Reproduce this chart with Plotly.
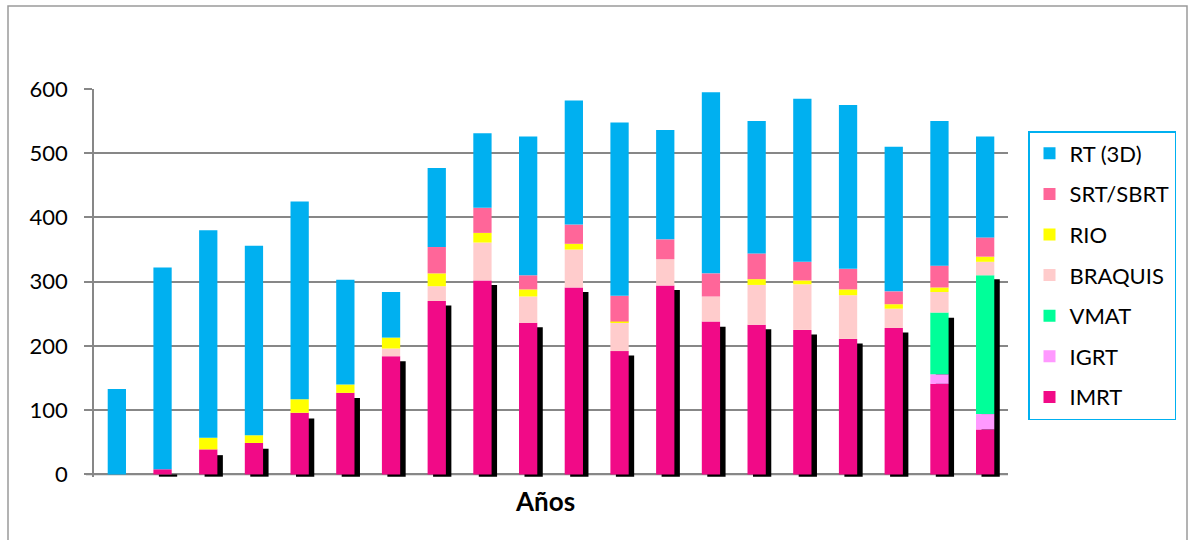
import numpy as np
import plotly.graph_objects as go

years = [f"A{i+1}" for i in range(20)]

imrt   = [0, 8, 39, 49, 96, 127, 184, 270, 302, 236, 291, 192, 294, 238, 233, 225, 211, 228, 141, 70]
igrt   = [0, 0, 0, 0, 0, 0, 0, 0, 0, 0, 0, 0, 0, 0, 0, 0, 0, 0, 15, 24]
vmat   = [0, 0, 0, 0, 0, 0, 0, 0, 0, 0, 0, 0, 0, 0, 0, 0, 0, 0, 96, 216]
braquis= [0, 0, 0, 0, 0, 0, 12, 23, 59, 41, 59, 45, 41, 39, 62, 71, 68, 30, 32, 21]
rio    = [0, 0, 18, 12, 21, 13, 17, 20, 15, 11, 9, 1, 0, 0, 9, 6, 9, 7, 7, 8]
srt    = [0, 0, 0, 0, 0, 0, 0, 41, 39, 22, 30, 40, 31, 36, 40, 29, 32, 20, 34, 30]
rt3d   = [133, 314, 323, 295, 308, 163, 71, 123, 116, 216, 193, 270, 170, 282, 206, 254, 255, 225, 225, 157]
shadow = [None, 0, 30, 40, 87, 119, 176, 263, 295, 229, 284, 185, 287, 230, 226, 218, 204, 221, 244, 304]

series = [
    ("IMRT", imrt, "#F10A87"),
    ("IGRT", igrt, "#FF99FF"),
    ("VMAT", vmat, "#00FF99"),
    ("BRAQUIS", braquis, "#FFCCCC"),
    ("RIO", rio, "#FFFF00"),
    ("SRT/SBRT", srt, "#FF6699"),
    ("RT (3D)", rt3d, "#00B0F0"),
]

BW = 0.40
SHADOW_BASE = -3.5
FONT = "Lato, Arial, sans-serif"

fig = go.Figure()

# shadow bars (drawn first, behind)
sh = np.array([np.nan if v is None else v for v in shadow], dtype=float)
fig.add_trace(go.Bar(
    x=years, y=sh - SHADOW_BASE, base=[SHADOW_BASE] * len(years),
    width=BW, offset=-BW / 2 + 0.12,
    marker=dict(color="#000000", line=dict(width=0)),
    showlegend=False, hoverinfo="skip",
))

base = np.zeros(len(years))
n = len(series)
for i, (name, vals, color) in enumerate(series):
    v = np.array(vals, dtype=float)
    fig.add_trace(go.Bar(
        x=years, y=v, base=base.copy(), name=name,
        width=BW, offset=-BW / 2,
        marker=dict(color=color, line=dict(width=0)),
        legendgroup=name, legendrank=n - i,
    ))
    base = base + v

fig.update_layout(
    width=1191, height=540,
    barmode="overlay",
    plot_bgcolor="white", paper_bgcolor="white",
    margin=dict(l=94, r=183, t=89, b=63, autoexpand=False),
    font=dict(family=FONT, color="#000000"),
    xaxis=dict(
        showticklabels=False, showgrid=False, showline=False, ticks="",
        zeroline=False, range=[-0.5, 19.5],
    ),
    yaxis=dict(
        range=[-4, 600], tickvals=[0, 100, 200, 300, 400, 500, 600],
        showgrid=True, gridcolor="#878787", gridwidth=1.5,
        zeroline=False,
        showline=True, linecolor="#878787", linewidth=1.5,
        ticks="outside", ticklen=8, tickcolor="#878787", tickwidth=1.5,
        tickfont=dict(size=22, family=FONT, color="#000000"),
        ticklabelstandoff=12,
    ),
    legend=dict(
        x=(1028 - 94) / 914, y=(477 - 131) / 388, xanchor="left", yanchor="top",
        bordercolor="#00B0F0", borderwidth=1.5, bgcolor="white",
        font=dict(size=22, family=FONT, color="#000000"),
        traceorder="grouped", tracegroupgap=9,
    ),
    showlegend=True,
    shapes=[
        dict(type="line", xref="paper", yref="y", x0=-8 / 914, x1=1.0, y0=0, y1=0,
             line=dict(color="#878787", width=1.5), layer="below"),
        dict(type="rect", xref="paper", yref="paper",
             x0=(8 - 94) / 914, x1=(1187 - 94) / 914,
             y0=-0.5, y1=(477 - 6) / 388,
             line=dict(color="#9A9A9A", width=1.5), fillcolor="rgba(0,0,0,0)"),
    ],
    annotations=[
        dict(text="<b>Años</b>", xref="paper", yref="paper",
             x=(545 - 94) / 914, y=(477 - 501) / 388,
             xanchor="center", yanchor="middle", showarrow=False,
             font=dict(size=26, family=FONT, color="#000000")),
    ],
)

fig.write_html("out.html", config={"displayModeBar": False},
               post_script="document.body.style.margin='0';")
